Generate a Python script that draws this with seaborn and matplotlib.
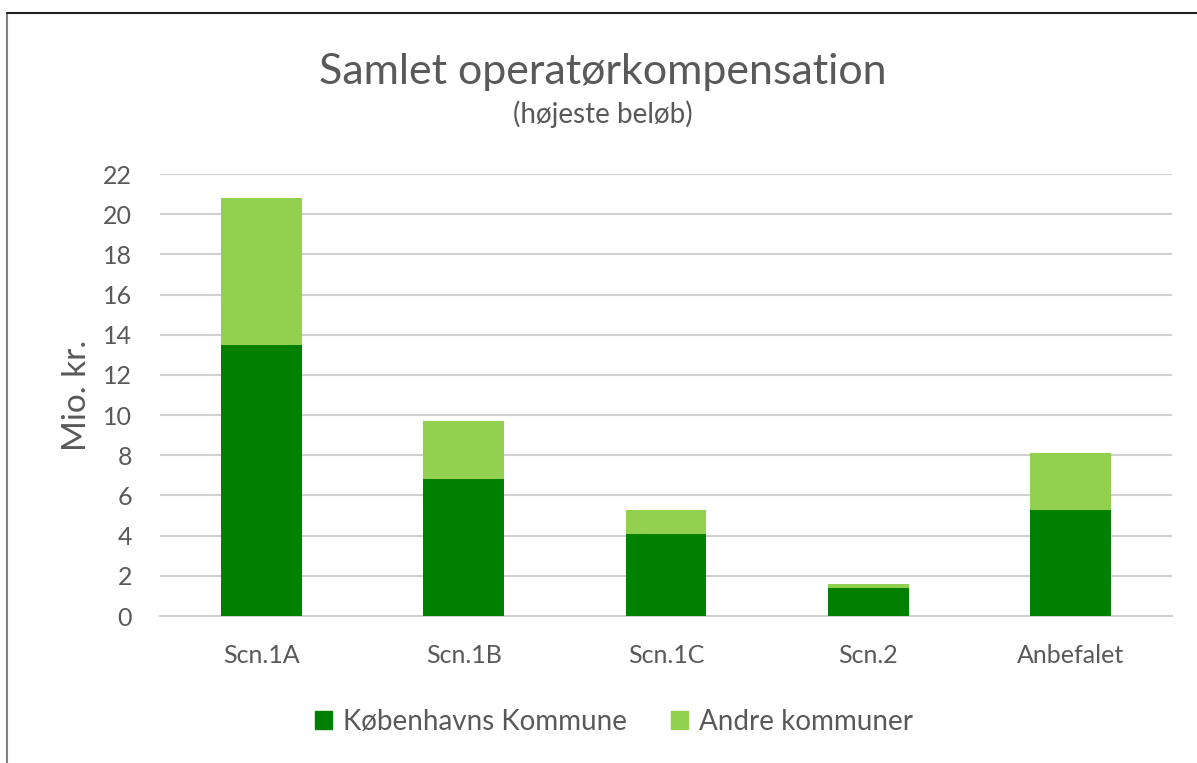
import matplotlib
matplotlib.use("Agg")
import matplotlib.pyplot as plt
from matplotlib.patches import Patch
from matplotlib.lines import Line2D
import pandas as pd
import seaborn as sns

# values (mio. kr.)
scenarios = ["Scn.1A", "Scn.1B", "Scn.1C", "Scn.2", "Anbefalet"]
kbh = [13.5, 6.8, 4.1, 1.4, 5.3]
andre = [7.3, 2.9, 1.2, 0.2, 2.8]

DARK = "#008000"
LIGHT = "#92D050"
TXT = "#595959"

sns.set_theme(style="white")
plt.rcParams["font.family"] = ["Lato", "DejaVu Sans"]

df = pd.DataFrame({"scenario": scenarios, "kbh": kbh, "andre": andre})
df["total"] = df["kbh"] + df["andre"]

fig = plt.figure(figsize=(11.97, 7.63), dpi=100)
ax = fig.add_axes([160 / 1197, 1 - 616 / 763, 1012 / 1197, 442 / 763])

sns.barplot(data=df, x="scenario", y="total", color=LIGHT, width=0.4,
            saturation=1, linewidth=0, ax=ax, zorder=3)
sns.barplot(data=df, x="scenario", y="kbh", color=DARK, width=0.4,
            saturation=1, linewidth=0, ax=ax, zorder=3)

ax.set_xlim(-0.5, len(scenarios) - 0.5)
ax.set_ylim(0, 22)
ax.set_yticks(range(0, 23, 2))
ax.yaxis.grid(True, color="#D0D0D0", linewidth=1.5, zorder=0)
ax.set_axisbelow(True)
for s in ["top", "right", "left"]:
    ax.spines[s].set_visible(False)
ax.spines["bottom"].set_color("#D0D0D0")
ax.spines["bottom"].set_linewidth(1.5)
ax.tick_params(axis="both", length=0, labelsize=18, labelcolor=TXT)
ax.tick_params(axis="y", pad=20)
ax.tick_params(axis="x", pad=20)
ax.set_xlabel("")
ax.set_ylabel("Mio. kr.", fontsize=24, color=TXT, labelpad=8)

fig.text(0.504, 1 - 72 / 763, "Samlet operatørkompensation", ha="center",
         va="center", fontsize=31, color=TXT)
fig.text(0.504, 1 - 114 / 763, "(højeste beløb)", ha="center", va="center",
         fontsize=20, color=TXT)

handles = [Patch(color=DARK, label="Københavns Kommune"),
           Patch(color=LIGHT, label="Andre kommuner")]
fig.legend(handles=handles, loc="center", bbox_to_anchor=(614 / 1197, 1 - 722 / 763),
           ncol=2, frameon=False, fontsize=20, labelcolor=TXT,
           handlelength=0.6, handleheight=0.6, handletextpad=0.4, columnspacing=1.6)

# frame lines at the left and top edge
fig.add_artist(Line2D([7 / 1197, 7 / 1197], [0, 1 - 13 / 763], color="#7f7f7f", lw=1.5))
fig.add_artist(Line2D([7 / 1197, 1], [1 - 13 / 763, 1 - 13 / 763], color="#222222", lw=1.5))

fig.savefig("out.png", dpi=100)
